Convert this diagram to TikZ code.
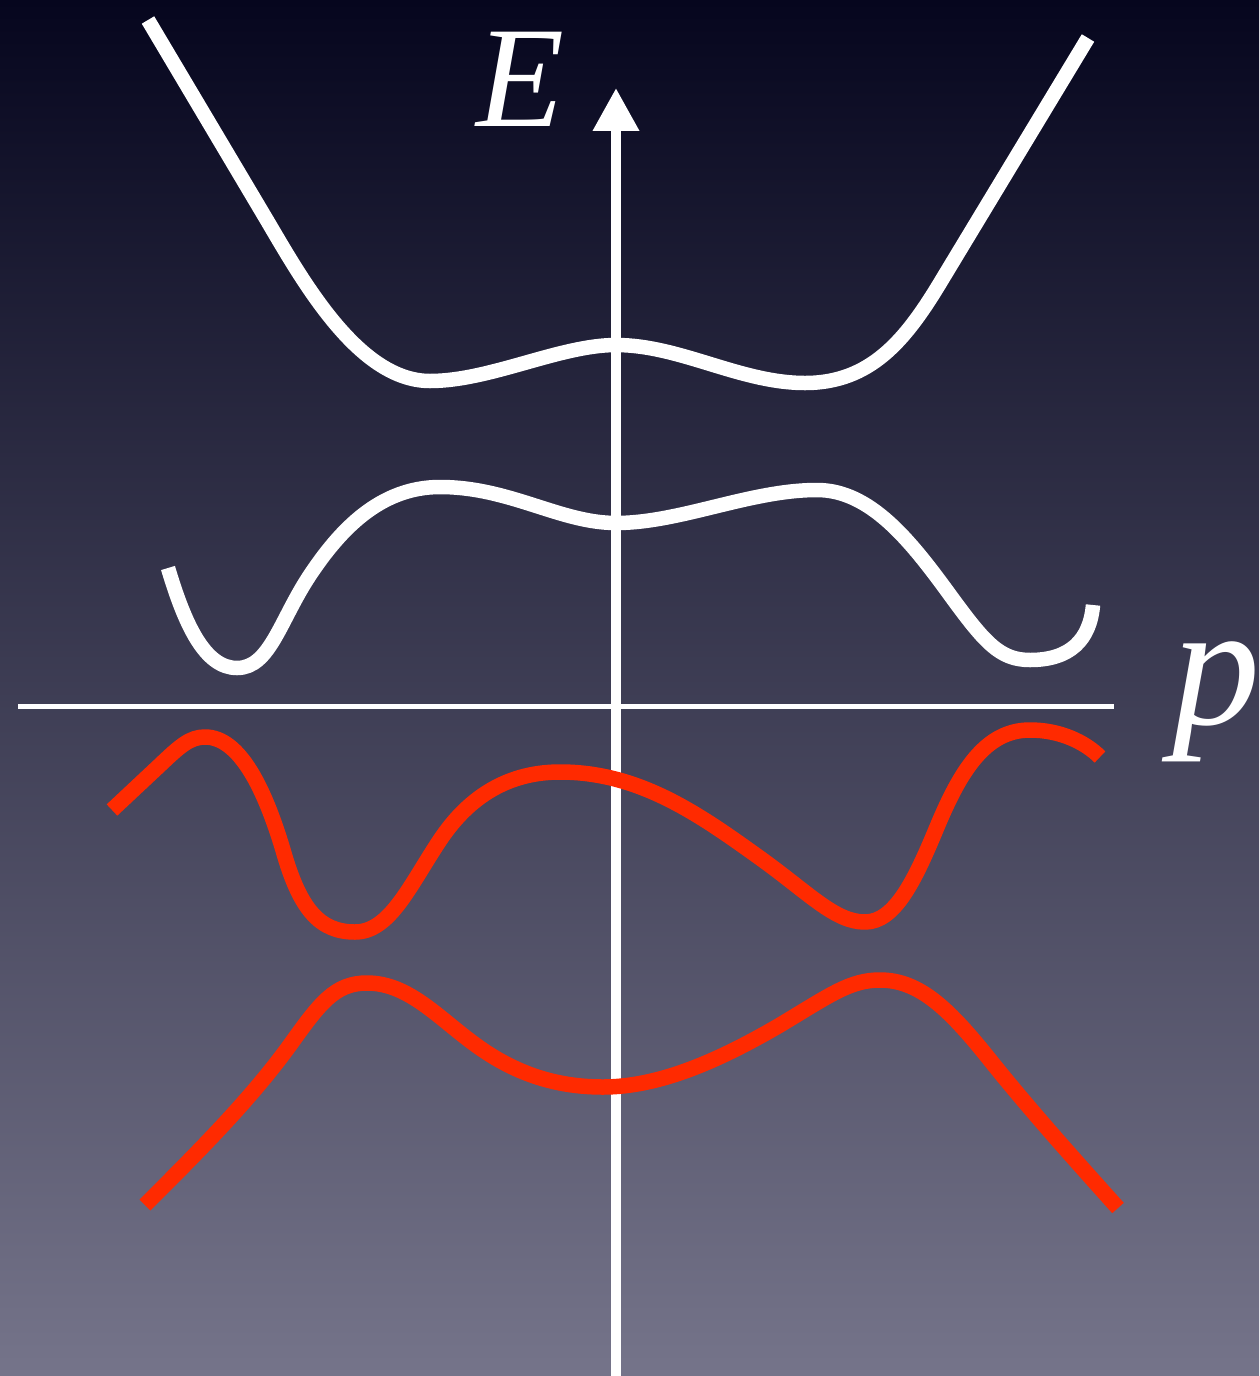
\documentclass[tikz,border=0pt]{standalone}
\usepackage{fontspec}
\setmainfont{Liberation Serif}
\usetikzlibrary{arrows.meta}
\definecolor{bgtop}{HTML}{06061E}
\definecolor{bgmid}{HTML}{45455F}
\definecolor{bgbot}{HTML}{75748A}
\definecolor{curvered}{HTML}{FF2A00}
\tikzset{
  axisline/.style={draw=white},
  whitecurve/.style={draw=white, line width=0.29cm, line join=round},
  redcurve/.style={draw=curvered, line width=0.31cm, line join=round},
  axislabel/.style={text=white, inner sep=0pt, anchor=base}
}
\begin{document}
\begin{tikzpicture}[x=0.02cm, y=-0.02cm]
  \shade[top color=bgtop, middle color=bgmid, bottom color=bgbot] (0,0) rectangle (1259,1376);
  \useasboundingbox (0,0) rectangle (1259,1376);

  % axes
  \coordinate (ybot) at (616,1376);
  \coordinate (ytop) at (616,88);
  \coordinate (xl) at (18,706);
  \coordinate (xr) at (1114,706);
  \draw[axisline, line width=0.1cm] (xl) -- (xr);
  \draw[axisline, line width=0.2cm, -{Triangle[length=0.86cm,width=0.88cm]}] (ybot) -- (ytop);

  \node[axislabel, font=\fontsize{82}{82}\selectfont\itshape] (labE) at (520,126) {E};
  \node[axislabel, font=\fontsize{100}{100}\selectfont\itshape] (labp) at (1216,724) {p};

  % top white curve
  \draw[whitecurve] (148,20) -- (268,222)
    .. controls (305,285) and (360,381) .. (430,381)
    .. controls (490,381) and (560,345) .. (616,345)
    .. controls (680,345) and (740,383) .. (805,383)
    .. controls (870,383) and (905,341) .. (940,283)
    -- (1088,38);

  % second white curve
  \draw[whitecurve] (168,568)
    .. controls (185,625) and (205,668) .. (237,668)
    .. controls (270,668) and (280,620) .. (310,575)
    .. controls (340,530) and (380,487) .. (440,487)
    .. controls (510,487) and (560,523) .. (616,523)
    .. controls (680,523) and (750,490) .. (817,490)
    .. controls (870,490) and (910,540) .. (950,595)
    .. controls (985,643) and (1000,660) .. (1030,660)
    .. controls (1070,660) and (1090,640) .. (1093,605);

  % first red curve
  \draw[redcurve] (112,810) -- (160,765)
    .. controls (180,746) and (190,737) .. (205,737)
    .. controls (240,737) and (265,790) .. (283,850)
    .. controls (300,910) and (320,932) .. (355,932)
    .. controls (390,932) and (410,885) .. (440,840)
    .. controls (470,795) and (510,772) .. (560,772)
    .. controls (640,772) and (700,815) .. (760,858)
    .. controls (810,894) and (835,922) .. (865,922)
    .. controls (895,922) and (915,880) .. (937,827)
    .. controls (960,772) and (985,730) .. (1030,730)
    .. controls (1060,730) and (1085,742) .. (1100,757);

  % second red curve
  \draw[redcurve] (145,1205)
    .. controls (200,1150) and (250,1100) .. (290,1045)
    .. controls (320,1003) and (335,983) .. (367,983)
    .. controls (410,983) and (440,1020) .. (480,1048)
    .. controls (520,1076) and (560,1087) .. (603,1087)
    .. controls (660,1087) and (720,1060) .. (780,1025)
    .. controls (830,995) and (850,980) .. (880,980)
    .. controls (920,980) and (950,1010) .. (990,1060)
    .. controls (1030,1110) and (1075,1160) .. (1118,1208);
\end{tikzpicture}
\end{document}
